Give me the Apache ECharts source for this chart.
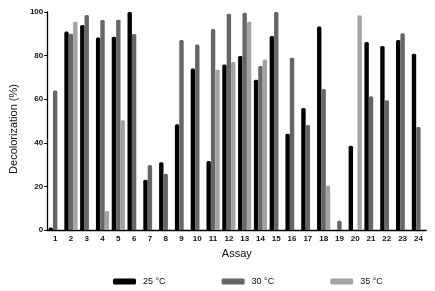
<!DOCTYPE html>
<html>
<head>
<meta charset="utf-8">
<script src="https://cdn.jsdelivr.net/npm/echarts@6/dist/echarts.min.js"></script>
<style>
  html, body { margin: 0; padding: 0; background: #fff; }
  #chart { width: 435px; height: 291px; }
</style>
</head>
<body>
<div id="chart"></div>
<script>
const assays = ["1", "2", "3", "4", "5", "6", "7", "8", "9", "10", "11", "12",
  "13", "14", "15", "16", "17", "18", "19", "20", "21", "22", "23", "24"];
const yTicks = [0, 20, 40, 60, 80, 100];

// null = no bar drawn for that temperature
const temp25 = [1.1, 91, 94, 88.3, 88.7, 100, 23, 31.1, 48.5, 74.1, 31.6, 75.9,
  79.8, 68.9, 89, 44.2, 56, 93.3, null, 38.7, 86.2, 84.4, 87.1, 80.8];
const temp30 = [64, 90, 98.6, 96.3, 96.5, 89.9, 29.8, 25.8, 87.1, 85.1, 92.2, 99.2,
  99.7, 75.2, 100, 79, 48.2, 64.7, 4.3, null, 61.3, 59.5, 90.2, 47.2];
const temp35 = [null, 95.5, null, 8.7, 50.3, null, null, null, null, null, 73.5, 77.1,
  95.5, 78.2, null, null, null, 20.4, null, 98.5, null, null, null, null];

const font = "Liberation Sans, Arial, sans-serif";
const chart = echarts.init(document.getElementById("chart"));

function bar(name, data, color) {
  return {
    name,
    type: "bar",
    data,
    barWidth: 4.4,
    barGap: "0%",
    itemStyle: { color, borderRadius: [1.5, 1.5, 0, 0] },
  };
}

chart.setOption({
  animation: false,
  grid: { left: 44.7, right: 8.7, top: 12, bottom: 61 },
  legend: {
    left: 108,
    top: 272,
    itemWidth: 23,
    itemHeight: 6,
    itemGap: 56,
    icon: "roundRect",
    textStyle: { fontFamily: font, fontSize: 9, color: "#111", padding: [0, 0, 0, 2] },
    data: ["25 °C", "30 °C", "35 °C"],
  },
  xAxis: {
    type: "category",
    data: assays,
    name: "Assay",
    nameLocation: "middle",
    nameGap: 18,
    nameTextStyle: { fontFamily: font, fontSize: 11, color: "#111" },
    axisLine: { lineStyle: { color: "#000", width: 1.3 } },
    axisTick: { alignWithLabel: true, length: 3, lineStyle: { color: "#000" } },
    axisLabel: { fontFamily: font, fontSize: 8, fontWeight: "bold", color: "#111", margin: 5 },
  },
  yAxis: {
    type: "value",
    min: yTicks[0],
    max: yTicks[yTicks.length - 1],
    interval: 20,
    name: "Decolorization (%)",
    nameLocation: "middle",
    nameGap: 27,
    nameTextStyle: { fontFamily: font, fontSize: 11, color: "#111", padding: [0, 16, 0, 0] },
    axisLine: { show: true, lineStyle: { color: "#000", width: 1.3 } },
    axisTick: { show: true, length: 3, lineStyle: { color: "#000" } },
    axisLabel: { fontFamily: font, fontSize: 8, fontWeight: "bold", color: "#111", margin: 4 },
    splitLine: { show: false },
  },
  series: [
    bar("25 °C", temp25, "#000000"),
    bar("30 °C", temp30, "#666666"),
    bar("35 °C", temp35, "#a3a3a3"),
  ],
});
</script>
</body>
</html>
